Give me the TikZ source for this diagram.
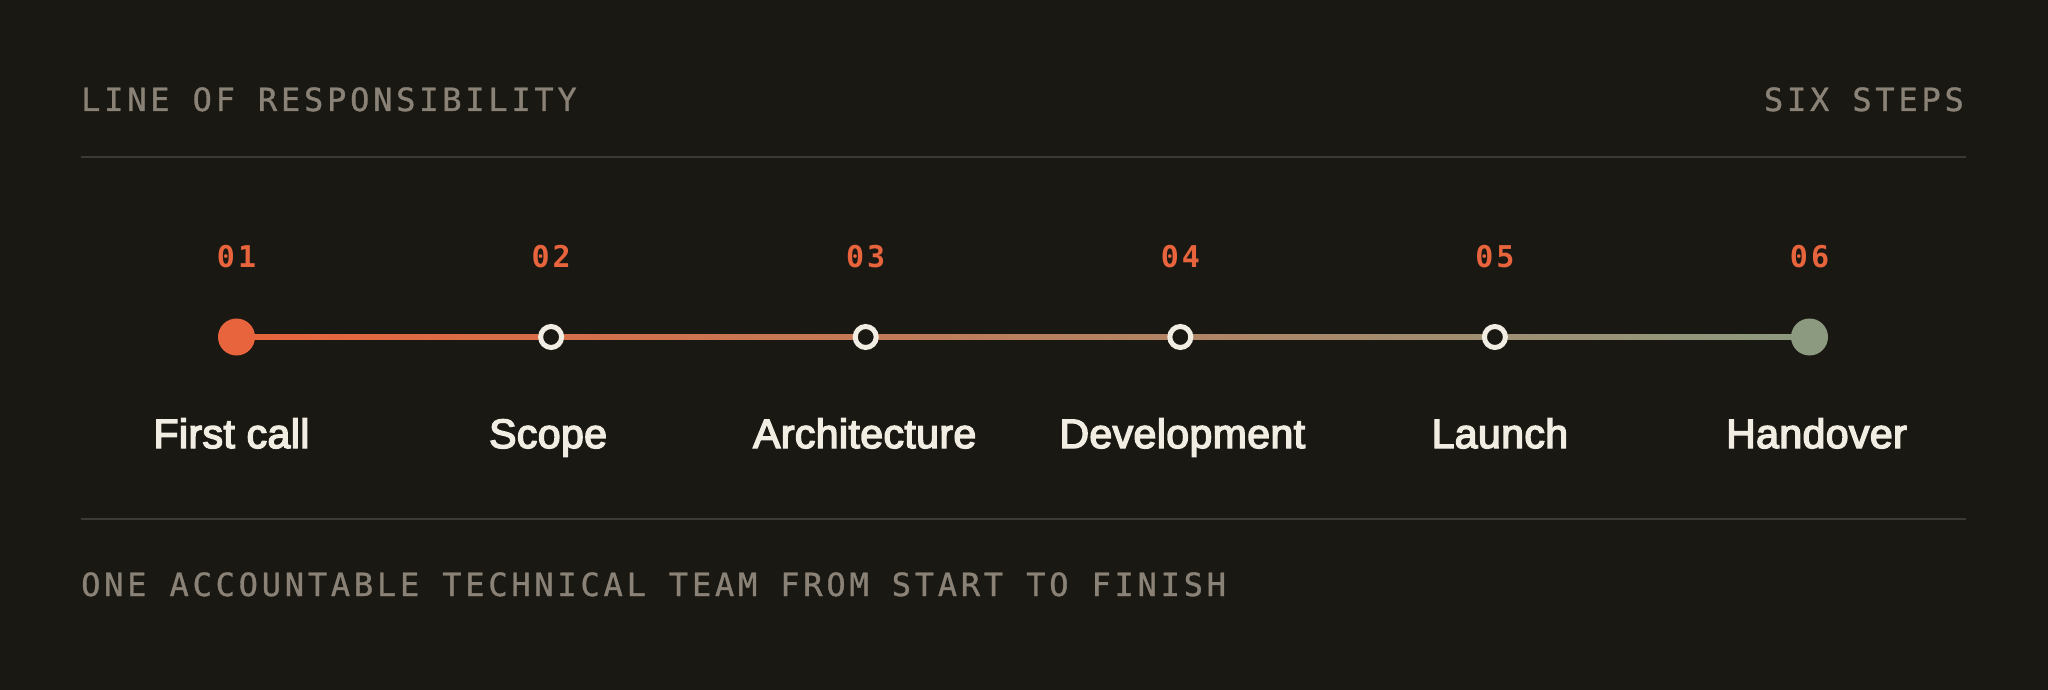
\documentclass[tikz,border=0pt]{standalone}
\usepackage{fontspec}
\setmainfont{Liberation Sans}
\newfontfamily\monofont{DejaVu Sans Mono}[LetterSpace=10]
\newfontfamily\headfont{DejaVu Sans Mono}[LetterSpace=11.8,FakeBold=1]
\newfontfamily\labelfont{Liberation Sans}[FakeBold=3.6,LetterSpace=1]
\definecolor{cBg}{RGB}{26,24,19}
\definecolor{cTaupe}{RGB}{138,130,118}
\definecolor{cRule}{RGB}{61,58,51}
\definecolor{cOrange}{RGB}{232,100,60}
\definecolor{cSage}{RGB}{140,154,128}
\definecolor{cCream}{RGB}{242,237,227}
\colorlet{c0}{cOrange}
\colorlet{c1}{cOrange!80!cSage}
\colorlet{c2}{cOrange!60!cSage}
\colorlet{c3}{cOrange!40!cSage}
\colorlet{c4}{cOrange!20!cSage}
\colorlet{c5}{cSage}
\pgfdeclarelayer{bglayer}
\pgfdeclarelayer{linelayer}
\pgfsetlayers{bglayer,linelayer,main}
\begin{document}
\begin{tikzpicture}[x=1pt,y=1pt,
  header/.style={text=cTaupe, font=\headfont\fontsize{32}{38}\selectfont, inner sep=0},
  num/.style={text=cOrange, font=\monofont\bfseries\fontsize{30}{36}\selectfont, inner sep=0, anchor=base},
  lab/.style={text=cCream, font=\labelfont\fontsize{41}{48}\selectfont, inner sep=0, anchor=base},
  dotfill/.style={circle, inner sep=0, minimum size=37},
  ring/.style={circle, inner sep=0, minimum size=21, line width=5, draw=cCream, fill=cBg},
  rule/.style={draw=cRule, line width=2}]
\begin{pgfonlayer}{bglayer}
\fill[cBg] (0,0) rectangle (2048,-690);
\end{pgfonlayer}
\useasboundingbox (0,0) rectangle (2048,-690);

% header
\node[header, anchor=base west] (title) at (81,-111) {LINE OF RESPONSIBILITY};
\node[header, anchor=base east] (count) at (1964,-111) {SIX STEPS};
\coordinate (tl) at (81,-157);
\coordinate (tr) at (1966,-157);
\draw[rule] (tl) -- (tr);

% steps
\node[dotfill, fill=cOrange] (s1) at (236.5,-337) {};
\node[ring] (s2) at (551.1,-337) {};
\node[ring] (s3) at (865.7,-337) {};
\node[ring] (s4) at (1180.3,-337) {};
\node[ring] (s5) at (1494.9,-337) {};
\node[dotfill, fill=cSage] (s6) at (1809.5,-337) {};

\begin{pgfonlayer}{linelayer}
\foreach \a/\b/\ca/\cb in {1/2/c0/c1, 2/3/c1/c2, 3/4/c2/c3, 4/5/c3/c4, 5/6/c4/c5}
  \shade[left color=\ca, right color=\cb] ([yshift=2.5pt]s\a.center) rectangle ([yshift=-2.5pt]s\b.center);
\end{pgfonlayer}

\node[num] (n1) at ([yshift=70pt]s1.center) {01};
\node[num] (n2) at ([yshift=70pt]s2.center) {02};
\node[num] (n3) at ([yshift=70pt]s3.center) {03};
\node[num] (n4) at ([yshift=70pt]s4.center) {04};
\node[num] (n5) at ([yshift=70pt]s5.center) {05};
\node[num] (n6) at ([yshift=70pt]s6.center) {06};

\node[lab] (l1) at ([xshift=-5pt,yshift=-111pt]s1.center) {First call};
\node[lab] (l2) at ([xshift=-3pt,yshift=-111pt]s2.center) {Scope};
\node[lab] (l3) at ([xshift=-1pt,yshift=-111pt]s3.center) {Architecture};
\node[lab] (l4) at ([xshift=2pt,yshift=-111pt]s4.center) {Development};
\node[lab] (l5) at ([xshift=5pt,yshift=-111pt]s5.center) {Launch};
\node[lab] (l6) at ([xshift=7pt,yshift=-111pt]s6.center) {Handover};

% footer
\coordinate (bl) at (81,-518.5);
\coordinate (br) at (1966,-518.5);
\draw[rule] (bl) -- (br);
\node[header, anchor=base west] (foot) at (81,-596) {ONE ACCOUNTABLE TECHNICAL TEAM FROM START TO FINISH};
\end{tikzpicture}
\end{document}
